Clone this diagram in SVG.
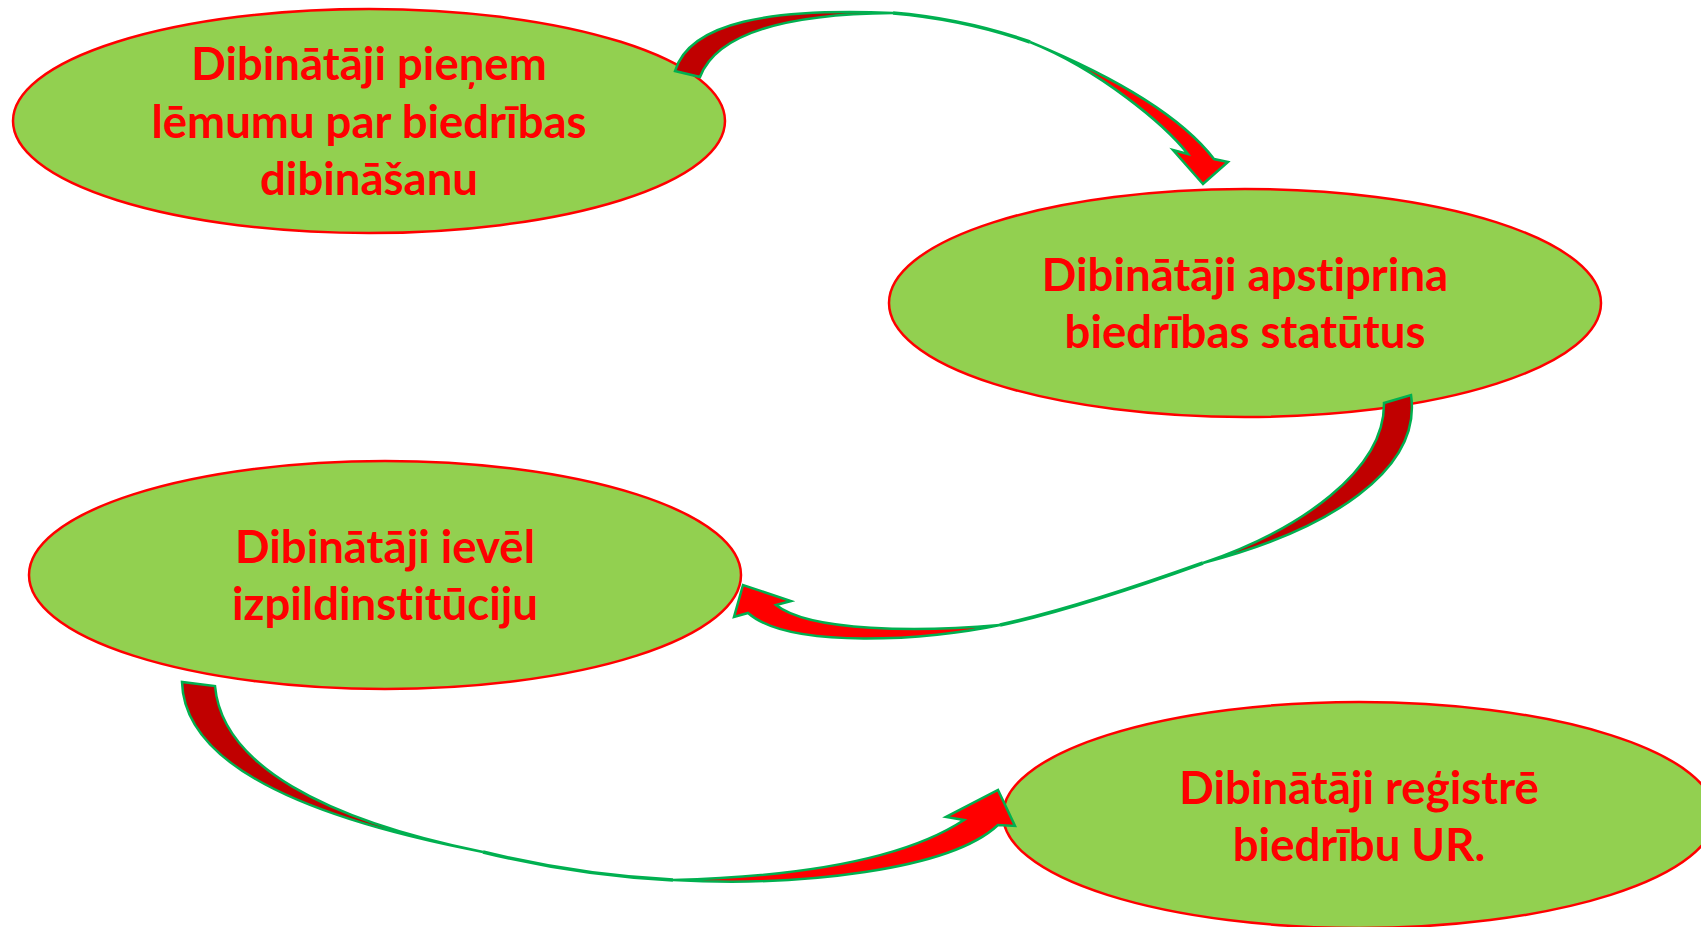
<svg xmlns="http://www.w3.org/2000/svg" width="1701" height="927" viewBox="0 0 1701 927">
<style>
.node ellipse{fill:#92D050;stroke:#FF0000;stroke-width:2.5}
.node text{font-family:Lato,"Liberation Sans",sans-serif;font-weight:700;font-size:45.5px;fill:#FF0000;text-anchor:middle;font-variant-ligatures:none;font-feature-settings:"liga" 0,"clig" 0}
.dark{fill:#C00000;stroke:#00B050;stroke-width:2.5;stroke-linejoin:miter;stroke-miterlimit:6}
.bright{fill:#FF0000;stroke:#00B050;stroke-width:2.5;stroke-linejoin:miter;stroke-miterlimit:6}
.link{fill:none;stroke:#00B050;stroke-width:3.5}
</style>
<rect width="1701" height="927" fill="#FFFFFF"/>
<g id="node1" class="node">
<ellipse cx="369" cy="121" rx="356" ry="112"/>
<text x="369" y="80">Dibinātāji pieņem</text>
<text x="369" y="138">lēmumu par biedrības</text>
<text x="369" y="195">dibināšanu</text>
</g>
<g id="node2" class="node">
<ellipse cx="1245" cy="303" rx="356" ry="114"/>
<text x="1245" y="291">Dibinātāji apstiprina</text>
<text x="1245" y="348">biedrības statūtus</text>
</g>
<g id="node3" class="node">
<ellipse cx="385" cy="575" rx="356" ry="114"/>
<text x="385" y="563">Dibinātāji ievēl</text>
<text x="385" y="620">izpildinstitūciju</text>
</g>
<g id="node4" class="node">
<ellipse cx="1359" cy="815" rx="356" ry="113"/>
<text x="1359" y="804">Dibinātāji reģistrē</text>
<text x="1359" y="861">biedrību UR.</text>
</g>
<g id="connectors">
<g id="arrow1">
<path class="link" d="M893,13 C940,17 990,28 1030,42"/>
<path class="dark" d="M675,71 C690,22 770,8 893,13 C780,14 716,35 700,77 Z"/>
<path class="bright" d="M1030,42 C1110,75 1180,115 1214,159 L1228,162 L1203,184 L1173,150 L1188,154 C1165,125 1100,70 1030,42 Z"/>
</g>
<g id="arrow2">
<path class="link" d="M1203,563 C1150,582 1070,610 1000,625"/>
<path class="dark" d="M1384,403 L1411,395 C1422,470 1330,530 1203,563 C1300,530 1385,470 1384,403 Z"/>
<path class="bright" d="M1000,625 C930,640 790,650 748,613 L734,617 L743,585 L791,601 L776,605 C810,632 920,632 1000,625 Z"/>
</g>
<g id="arrow3">
<path class="link" d="M483,852 C540,866 610,877 673,880"/>
<path class="dark" d="M182,682 C184,760 290,815 483,852 C325,820 222,765 215,686 Z"/>
<path class="bright" d="M673,880 C800,887 950,870 998,825 L1015,826 L998,790 L946,817 L964,820 C900,862 790,877 673,880 Z"/>
</g>
</g>
</svg>
